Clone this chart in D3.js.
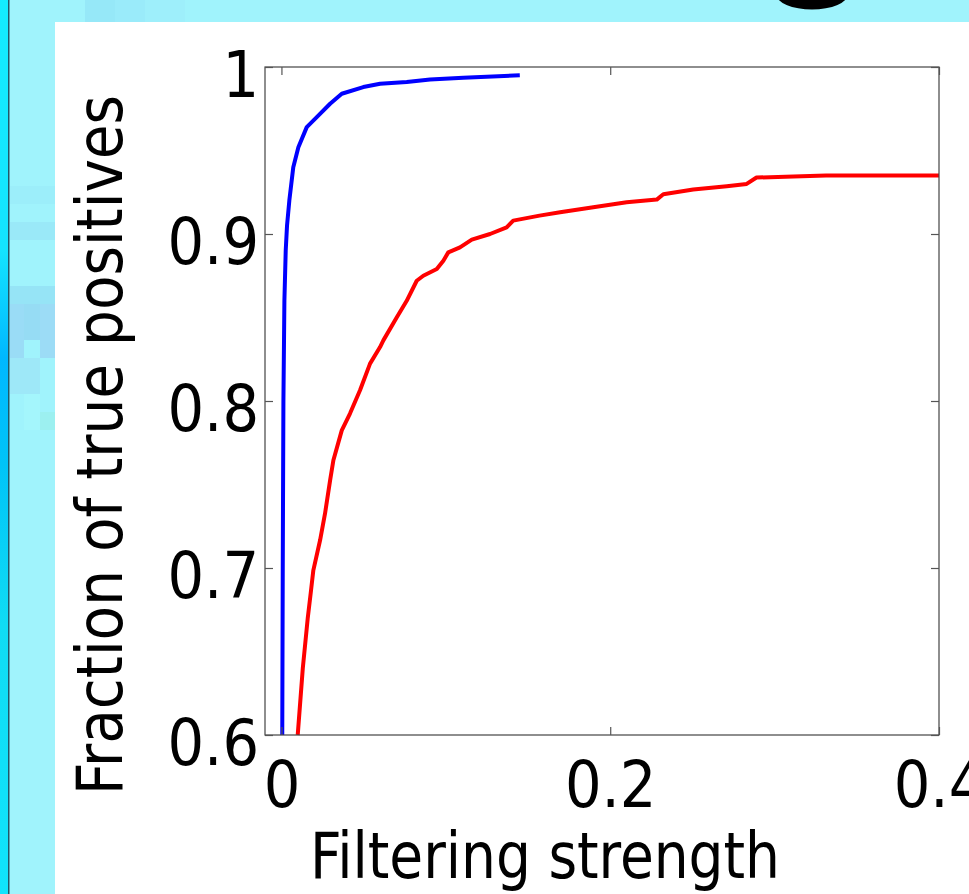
<!DOCTYPE html>
<html>
<head>
<meta charset="utf-8">
<script src="https://cdn.jsdelivr.net/npm/d3@7"></script>
<style>
  html, body { margin: 0; padding: 0; background: #fff; }
  svg { display: block; }
  .tick text { font-family: "DejaVu Sans Condensed", "DejaVu Sans", sans-serif; }
</style>
</head>
<body>
<div id="frame"></div>
<script>
'use strict'

// values
var xTicks = [0, 0.2, 0.4]
var yTicks = [0.6, 0.7, 0.8, 0.9, 1]
var xLimits = [-0.01, 0.4]
var yLimits = [0.6, 1]

var blueX = [0.0005, 0.0008, 0.0012, 0.0018, 0.0026, 0.0034, 0.0048, 0.0072, 0.0103, 0.0154, 0.0215, 0.0296, 0.0367, 0.0498, 0.060, 0.0762, 0.0904, 0.1106, 0.145]
var blueY = [0.6, 0.7, 0.8, 0.86, 0.89, 0.905, 0.92, 0.94, 0.952, 0.964, 0.970, 0.978, 0.984, 0.988, 0.990, 0.991, 0.9925, 0.9936, 0.995]

var redX = [0.0099, 0.013, 0.016, 0.018, 0.0194, 0.0235, 0.0265, 0.0296, 0.0316, 0.0367, 0.0417, 0.0478, 0.0539, 0.060, 0.062, 0.0701, 0.0762, 0.0823, 0.0863, 0.0945, 0.0985, 0.1015, 0.1086, 0.1158, 0.1269, 0.137, 0.141, 0.157, 0.1695, 0.1897, 0.210, 0.2283, 0.2323, 0.2505, 0.2709, 0.283, 0.289, 0.3115, 0.3313, 0.4]
var redY = [0.6, 0.64, 0.67, 0.6866, 0.6986, 0.7166, 0.7325, 0.7525, 0.7645, 0.7824, 0.7925, 0.8064, 0.8224, 0.8323, 0.8363, 0.850, 0.860, 0.872, 0.875, 0.879, 0.884, 0.889, 0.892, 0.8966, 0.900, 0.904, 0.908, 0.911, 0.913, 0.916, 0.919, 0.9206, 0.9238, 0.9266, 0.9286, 0.930, 0.9338, 0.9345, 0.935, 0.935]

var W = 969, H = 894
var box = {left: 265, right: 939, top: 67, bottom: 735}
var font = '"DejaVu Sans Condensed", "DejaVu Sans", sans-serif'

var svg = d3.select("#frame").append("svg")
  .attr("width", W)
  .attr("height", H)

var defs = svg.append("defs")
var grad = defs.append("linearGradient")
  .attr("id", "strip")
  .attr("x1", 0).attr("y1", 0).attr("x2", 0).attr("y2", 1)
grad.append("stop").attr("offset", "0%").attr("stop-color", "#14ecff")
grad.append("stop").attr("offset", "28%").attr("stop-color", "#14e4ff")
grad.append("stop").attr("offset", "40%").attr("stop-color", "#00b8ff")
grad.append("stop").attr("offset", "52%").attr("stop-color", "#00c4f8")
grad.append("stop").attr("offset", "70%").attr("stop-color", "#10dcf4")
grad.append("stop").attr("offset", "100%").attr("stop-color", "#10e4fc")

// slide background behind the figure
var bg = svg.append("g").attr("class", "background")
bg.append("rect").attr("x", 0).attr("y", 0).attr("width", W).attr("height", H).attr("fill", "#a0f3fc")
bg.append("rect").attr("x", 0).attr("y", 0).attr("width", 8).attr("height", H).attr("fill", "url(#strip)")
bg.append("rect").attr("x", 8).attr("y", 0).attr("width", 1.5).attr("height", H).attr("fill", "#1f5868")

// blocky patches of the background
var patches = [
  [85, 0, 30, 22, "#96e8f8"], [115, 0, 30, 22, "#9aebfa"], [145, 0, 40, 22, "#9eeffb"],
  [10, 186, 45, 18, "#9ceefa"], [10, 222, 45, 18, "#9ae9f8"], [10, 286, 45, 18, "#96e4f6"],
  [10, 304, 14, 54, "#9adcf6"], [24, 304, 16, 36, "#96dcf4"], [40, 304, 15, 54, "#9cdcf6"],
  [10, 358, 30, 36, "#9ee8f8"], [24, 394, 16, 36, "#a4f6fc"], [40, 412, 15, 18, "#9cf0f0"]
]
bg.selectAll("rect.patch").data(patches).enter().append("rect")
  .attr("class", "patch")
  .attr("x", d => d[0]).attr("y", d => d[1])
  .attr("width", d => d[2]).attr("height", d => d[3])
  .attr("fill", d => d[4])

// bottom of a large heading letter cut by the panel
bg.append("ellipse")
  .attr("cx", 812).attr("cy", -6).attr("rx", 36).attr("ry", 15.5)
  .attr("fill", "#000")

// white figure panel
svg.append("rect")
  .attr("x", 55).attr("y", 22)
  .attr("width", W - 55).attr("height", H - 22)
  .attr("fill", "#fff")

var x = d3.scaleLinear().domain(xLimits).range([box.left, box.right])
var y = d3.scaleLinear().domain(yLimits).range([box.bottom, box.top])

var plot = svg.append("g").attr("class", "plot")

var line = d3.line().x(d => x(d[0])).y(d => y(d[1]))

var series = [
  {name: "blue", color: "#0000ff", pts: d3.zip(blueX, blueY)},
  {name: "red", color: "#ff0000", pts: d3.zip(redX, redY)}
]

plot.selectAll("path.curve").data(series).enter().append("path")
  .attr("class", d => "curve " + d.name)
  .attr("d", d => line(d.pts))
  .attr("fill", "none")
  .attr("stroke", d => d.color)
  .attr("stroke-width", 4)
  .attr("stroke-linejoin", "round")

// axes box
plot.append("rect")
  .attr("x", box.left).attr("y", box.top)
  .attr("width", box.right - box.left).attr("height", box.bottom - box.top)
  .attr("fill", "none")
  .attr("stroke", "#444")
  .attr("stroke-width", 1.2)

var axBottom = plot.append("g")
  .attr("transform", "translate(0," + box.bottom + ")")
  .call(d3.axisBottom(x).tickValues(xTicks).tickSize(-8).tickPadding(27).tickFormat(d3.format("")))
var axTop = plot.append("g")
  .attr("transform", "translate(0," + box.top + ")")
  .call(d3.axisTop(x).tickValues(xTicks).tickSize(-8).tickFormat(""))
var axLeft = plot.append("g")
  .attr("transform", "translate(" + box.left + ",0)")
  .call(d3.axisLeft(y).tickValues(yTicks).tickSize(-8).tickPadding(6).tickFormat(d3.format("")))
var axRight = plot.append("g")
  .attr("transform", "translate(" + box.right + ",0)")
  .call(d3.axisRight(y).tickValues(yTicks).tickSize(-8).tickFormat(""))

;[axBottom, axTop, axLeft, axRight].forEach(function(g) {
  g.select(".domain").remove()
  g.selectAll(".tick line").attr("stroke", "#555").attr("stroke-width", 1.2)
})

axBottom.selectAll(".tick text")
  .attr("font-size", 64)
  .attr("fill", "#000")
axLeft.selectAll(".tick text")
  .attr("font-size", 64)
  .attr("fill", "#000")
  .attr("dy", "0.46em")

plot.append("text")
  .attr("transform", "translate(122,445) rotate(-90)")
  .attr("text-anchor", "middle")
  .attr("font-family", font)
  .attr("font-size", 64)
  .attr("textLength", 700)
  .attr("lengthAdjust", "spacingAndGlyphs")
  .text("Fraction of true positives")

plot.append("text")
  .attr("x", 545)
  .attr("y", 878)
  .attr("text-anchor", "middle")
  .attr("font-family", font)
  .attr("font-size", 64)
  .attr("textLength", 470)
  .attr("lengthAdjust", "spacingAndGlyphs")
  .text("Filtering strength")
</script>
</body>
</html>
